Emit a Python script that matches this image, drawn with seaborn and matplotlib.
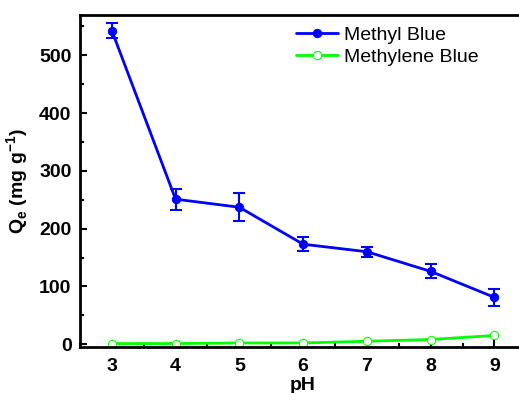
import matplotlib
matplotlib.use('Agg')
import matplotlib.pyplot as plt
import seaborn as sns
import pandas as pd
import numpy as np
from matplotlib.ticker import MultipleLocator

ph = [3, 4, 5, 6, 7, 8, 9]
methyl_blue = [543, 251, 237, 173, 160, 126, 81]
methyl_blue_err = [13, 18, 24, 12, 9, 12, 15]
methylene_blue = [1, 1, 2, 2, 5, 8, 15]

df = pd.DataFrame({'pH': ph * 2,
                   'Qe': methyl_blue + methylene_blue,
                   'dye': ['Methyl Blue'] * 7 + ['Methylene Blue'] * 7})

sns.set_style('ticks')
plt.rcParams['font.family'] = ['Liberation Sans', 'DejaVu Sans']
plt.rcParams['text.color'] = 'black'
plt.rcParams['axes.labelcolor'] = 'black'
plt.rcParams['xtick.color'] = 'black'
plt.rcParams['ytick.color'] = 'black'

fig = plt.figure(figsize=(5.19, 3.93), dpi=100)
ax = fig.add_axes([0.154, 0.117, 0.86, 0.845])

sns.lineplot(data=df[df.dye == 'Methyl Blue'], x='pH', y='Qe', ax=ax, color='#0000ff',
             lw=2, marker='o', markersize=6, markerfacecolor='#0000ff',
             markeredgecolor='#0000ff', label='Methyl Blue')
sns.lineplot(data=df[df.dye == 'Methylene Blue'], x='pH', y='Qe', ax=ax, color='#00ff00',
             lw=2, marker='o', markersize=6, markerfacecolor='white',
             markeredgecolor='#00ff00', label='Methylene Blue')
ax.errorbar(ph, methyl_blue, yerr=methyl_blue_err, fmt='none', ecolor='#0000ff',
            elinewidth=1.5, capsize=4, capthick=1.5)

ax.set_xlim(2.5, 9.5)
ax.set_ylim(-5, 570)
ax.xaxis.set_major_locator(MultipleLocator(1))
ax.xaxis.set_minor_locator(MultipleLocator(0.5))
ax.yaxis.set_major_locator(MultipleLocator(100))
ax.yaxis.set_minor_locator(MultipleLocator(50))
ax.tick_params(which='both', direction='in', width=1.5, labelsize=14)
ax.tick_params(which='major', length=5)
ax.tick_params(which='minor', length=3)
ax.tick_params(axis='x', pad=8)
ax.tick_params(axis='y', pad=6)
for lab in ax.get_xticklabels() + ax.get_yticklabels():
    lab.set_fontweight('bold')
for s in ax.spines.values():
    s.set_linewidth(2)
    s.set_color('black')
ax.spines['right'].set_visible(False)

ax.set_xlabel('pH', fontsize=14, fontweight='bold', labelpad=1)
ax.set_ylabel('Q$_\\mathregular{e}$ (mg g$^\\mathregular{-1}$)', fontsize=14, fontweight='bold',
              labelpad=6)

ax.legend(loc='upper right', frameon=False, fontsize=14, handlelength=2.2,
          borderaxespad=0.2, labelspacing=0.2, handletextpad=0.3,
          bbox_to_anchor=(0.92, 1.0))

fig.savefig('out.png', dpi=100)
